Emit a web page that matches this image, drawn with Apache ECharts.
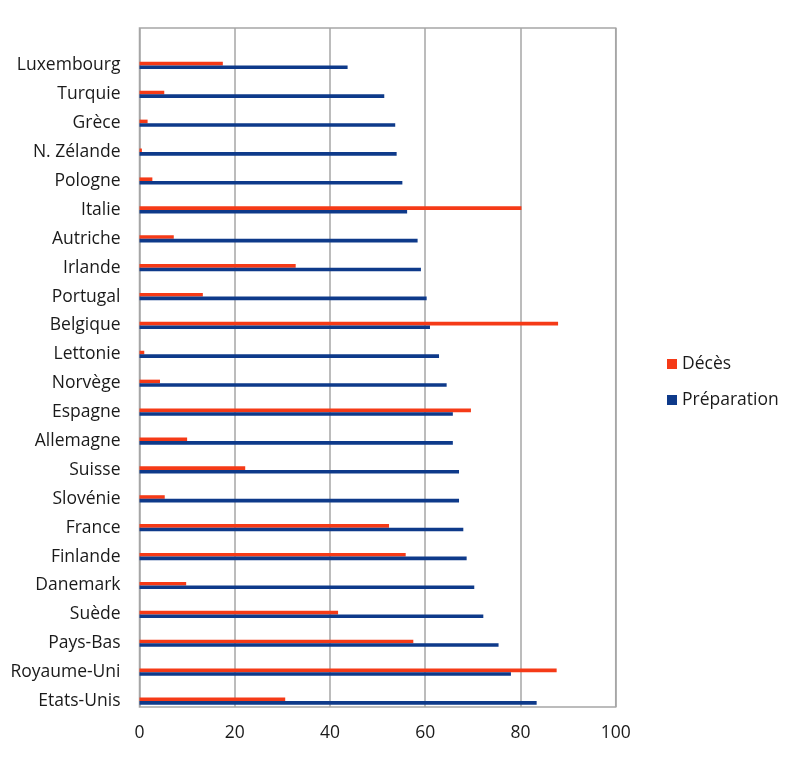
<!DOCTYPE html>
<html>
<head>
<meta charset="utf-8">
<script src="https://cdn.jsdelivr.net/npm/echarts@6/dist/echarts.min.js"></script>
<style>html,body{margin:0;padding:0;background:#fff}#c{width:800px;height:760px}</style>
</head>
<body>
<div id="c"></div>
<script>
// Categories listed bottom to top
const categories = ['Etats-Unis','Royaume-Uni','Pays-Bas','Suède','Danemark','Finlande','France','Slovénie','Suisse','Allemagne','Espagne','Norvège','Lettonie','Belgique','Portugal','Irlande','Autriche','Italie','Pologne','N. Zélande','Grèce','Turquie','Luxembourg'];
const preparation = [83.4,78.0,75.4,72.2,70.3,68.7,68.0,67.1,67.1,65.8,65.8,64.5,62.9,61.0,60.3,59.1,58.4,56.2,55.2,54.0,53.7,51.4,43.7];
const deces = [30.6,87.6,57.5,41.7,9.8,55.9,52.4,5.3,22.2,10.0,69.6,4.3,1.0,87.9,13.3,32.8,7.2,80.2,2.7,0.5,1.7,5.2,17.5];
const xTicks = [0,20,40,60,80,100];

const FONT = 'Open Sans';
const FS = 17.5;
const chart = echarts.init(document.getElementById('c'), null, {renderer:'canvas'});
chart.setOption({
  animation: false,
  backgroundColor: '#fff',
  legend: {
    data: ['Décès','Préparation'],
    orient: 'vertical',
    left: 662, top: 350,
    itemWidth: 10, itemHeight: 10, itemGap: 18,
    icon: 'rect',
    textStyle: {fontFamily: FONT, fontSize: FS, color: '#1a1a1a'}
  },
  grid: [
    {left: 139.5, right: 184.3, top: 28, bottom: 53, show: true, borderColor: '#a6a6a6', borderWidth: 1.5, backgroundColor: 'transparent', containLabel: false},
    {left: 139.5, right: 184.3, top: 51, bottom: 44.5, containLabel: false}
  ],
  xAxis: [
    {gridIndex: 0, type: 'value', min: xTicks[0], max: xTicks[xTicks.length-1], interval: 20,
     axisLine: {show: false}, axisTick: {show: false},
     splitLine: {show: true, lineStyle: {color: '#a6a6a6', width: 1.5}},
     axisLabel: {fontFamily: FONT, fontSize: FS, color: '#1a1a1a', margin: 17}},
    {gridIndex: 1, type: 'value', min: 0, max: 100, show: false}
  ],
  yAxis: [
    {gridIndex: 0, type: 'value', show: false},
    {gridIndex: 1, type: 'category', data: categories,
     axisLine: {show: false}, axisTick: {show: false},
     axisLabel: {fontFamily: FONT, fontSize: FS, color: '#1a1a1a', margin: 19, padding: [4, 0, 0, 0]}}
  ],
  series: [
    {name: 'Décès', type: 'bar', xAxisIndex: 1, yAxisIndex: 1, data: deces,
     barWidth: 3.6, barGap: '0%', itemStyle: {color: '#f53a17'}},
    {name: 'Préparation', type: 'bar', xAxisIndex: 1, yAxisIndex: 1, data: preparation,
     barWidth: 3.6, barGap: '0%', itemStyle: {color: '#0e3a8a'}}
  ]
});
</script>
</body>
</html>
